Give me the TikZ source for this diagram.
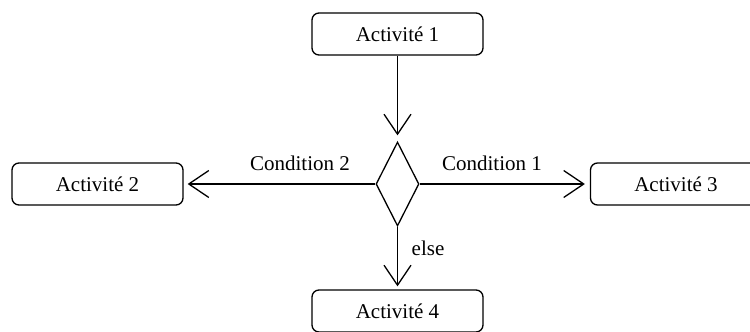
\documentclass[tikz,border=0pt]{standalone}
\usepackage{fontspec}
\setmainfont{Liberation Serif}
\usetikzlibrary{arrows.meta,shapes.geometric}
\begin{document}
\begin{tikzpicture}[x=1pt,y=-1pt,
  every node/.style={font=\fontsize{21}{25}\selectfont},
  activity/.style={draw,line width=1.3pt,rounded corners=7pt,minimum width=171pt,minimum height=42pt,inner sep=0pt},
  decision/.style={draw,line width=1.3pt,diamond,inner sep=0pt,minimum width=43pt,minimum height=84pt,shape aspect=0.512},
  flow/.style={line width=1.3pt,-{Straight Barb[length=20pt,width=27pt,line width=1.3pt]}},
  lbl/.style={inner sep=0pt}]
  \useasboundingbox (0,0) rectangle (750,332);
  \clip (0,0) rectangle (750,332);
  \node[activity] (a1) at (397.5,34) {Activité 1};
  \node[activity] (a2) at (97.5,184) {Activité 2};
  \node[activity] (a3) at (676,184) {Activité 3};
  \node[activity] (a4) at (397.5,311) {Activité 4};
  \node[decision] (d) at (397.5,184) {};
  \draw[flow,shorten >=6pt] (a1.south) -- (d.north);
  \draw[flow,shorten >=4pt] (d.west) -- (a2.east);
  \draw[flow,shorten >=5pt] (d.east) -- (a3.west);
  \draw[flow,shorten >=3pt] (d.south) -- (a4.north);
  \node[lbl] (c2) at (300,163) {Condition 2};
  \node[lbl] (c1) at (492,163) {Condition 1};
  \node[lbl] (el) at (428,248) {else};
\end{tikzpicture}
\end{document}
